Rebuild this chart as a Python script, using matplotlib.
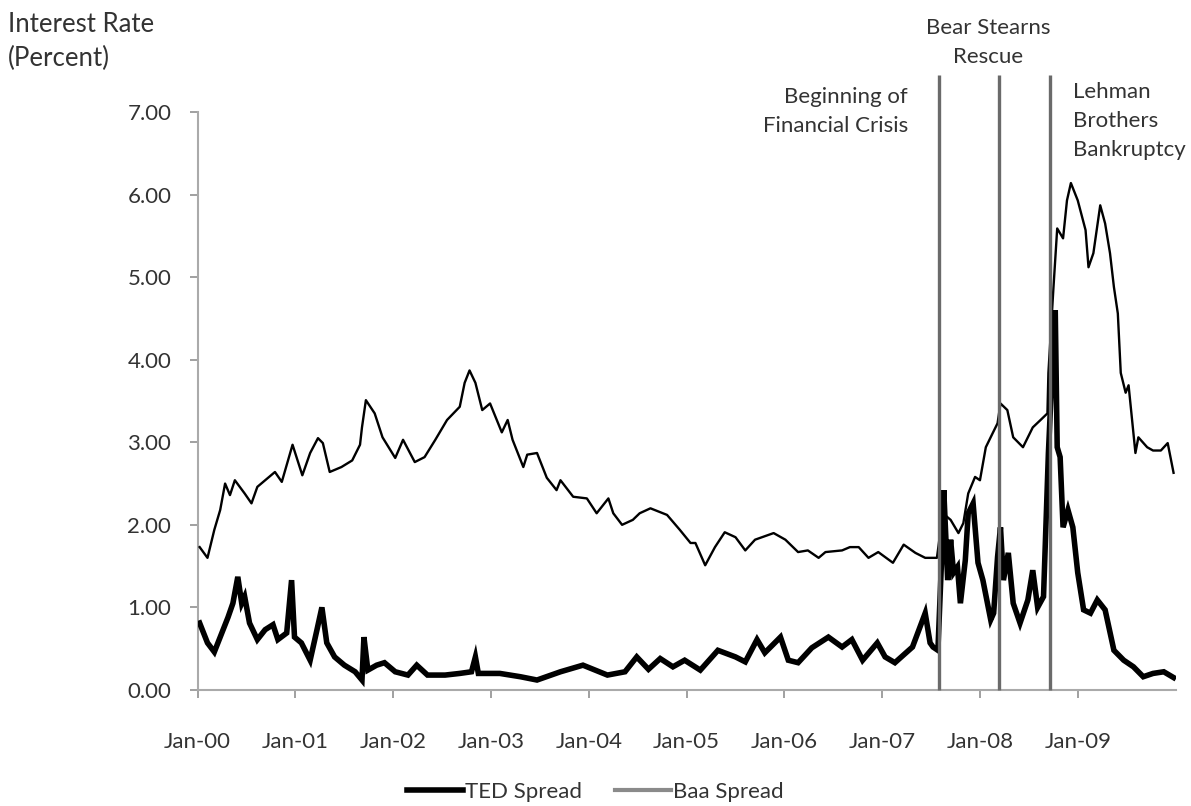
import matplotlib.pyplot as plt
from matplotlib.lines import Line2D

# Baa spread, decimal years
baa_t = [2000.02, 2000.10, 2000.17, 2000.23, 2000.28, 2000.33, 2000.38, 2000.48, 2000.55, 2000.61,
         2000.79, 2000.86, 2000.97, 2001.07, 2001.15, 2001.23, 2001.28, 2001.35, 2001.47, 2001.58,
         2001.66, 2001.68, 2001.72, 2001.81, 2001.89, 2002.02, 2002.10, 2002.22, 2002.32, 2002.43,
         2002.55, 2002.68, 2002.73, 2002.78, 2002.84, 2002.91, 2002.99, 2003.11, 2003.17, 2003.22,
         2003.33, 2003.37, 2003.47, 2003.57, 2003.67, 2003.71, 2003.84, 2003.98, 2004.08, 2004.20,
         2004.25, 2004.34, 2004.45, 2004.52, 2004.63, 2004.80, 2004.93, 2005.04, 2005.09, 2005.19,
         2005.29, 2005.39, 2005.50, 2005.60, 2005.70, 2005.89, 2006.01, 2006.14, 2006.24, 2006.35,
         2006.42, 2006.59, 2006.67, 2006.76, 2006.86, 2006.96, 2007.11, 2007.22, 2007.34, 2007.44,
         2007.56, 2007.62, 2007.70, 2007.78, 2007.83, 2007.88, 2007.95, 2008.00, 2008.06, 2008.13,
         2008.18, 2008.21, 2008.28, 2008.34, 2008.44, 2008.54, 2008.62, 2008.69, 2008.70, 2008.75,
         2008.79, 2008.85, 2008.89, 2008.93, 2009.00, 2009.08, 2009.11, 2009.16, 2009.23, 2009.28,
         2009.33, 2009.37, 2009.41, 2009.44, 2009.49, 2009.52, 2009.59, 2009.62, 2009.71, 2009.77,
         2009.85, 2009.92, 2009.98]
baa_v = [1.73, 1.60, 1.94, 2.18, 2.50, 2.36, 2.54, 2.38, 2.26, 2.46,
         2.64, 2.52, 2.97, 2.60, 2.87, 3.05, 2.99, 2.64, 2.70, 2.78,
         2.97, 3.18, 3.51, 3.35, 3.06, 2.81, 3.03, 2.76, 2.82, 3.03,
         3.27, 3.43, 3.72, 3.87, 3.72, 3.39, 3.47, 3.12, 3.27, 3.03,
         2.70, 2.85, 2.87, 2.57, 2.42, 2.54, 2.34, 2.32, 2.14, 2.32,
         2.14, 2.00, 2.06, 2.14, 2.20, 2.12, 1.94, 1.78, 1.78, 1.51,
         1.73, 1.91, 1.85, 1.69, 1.82, 1.90, 1.82, 1.67, 1.69, 1.60,
         1.67, 1.69, 1.73, 1.73, 1.60, 1.67, 1.54, 1.76, 1.66, 1.60,
         1.60, 2.14, 2.06, 1.90, 2.02, 2.38, 2.58, 2.54, 2.94, 3.11,
         3.23, 3.47, 3.39, 3.06, 2.94, 3.18, 3.27, 3.35, 3.84, 4.84,
         5.59, 5.47, 5.93, 6.14, 5.93, 5.57, 5.12, 5.29, 5.87, 5.65,
         5.29, 4.88, 4.56, 3.84, 3.60, 3.69, 2.87, 3.06, 2.94, 2.90,
         2.90, 2.99, 2.63]

# TED spread
ted_t = [2000.02, 2000.10, 2000.17, 2000.31, 2000.36, 2000.41, 2000.45, 2000.48, 2000.53, 2000.61,
         2000.69, 2000.77, 2000.82, 2000.91, 2000.96, 2000.99, 2001.06, 2001.15, 2001.22, 2001.27,
         2001.32, 2001.40, 2001.50, 2001.61, 2001.68, 2001.70, 2001.74, 2001.83, 2001.91, 2002.02,
         2002.15, 2002.24, 2002.35, 2002.53, 2002.68, 2002.80, 2002.84, 2002.87, 2003.09, 2003.30,
         2003.47, 2003.71, 2003.94, 2004.19, 2004.37, 2004.49, 2004.61, 2004.73, 2004.86, 2004.98,
         2005.14, 2005.32, 2005.50, 2005.60, 2005.72, 2005.80, 2005.96, 2006.04, 2006.14, 2006.28,
         2006.45, 2006.59, 2006.69, 2006.80, 2006.95, 2007.03, 2007.13, 2007.31, 2007.44, 2007.49,
         2007.52, 2007.57, 2007.62, 2007.63, 2007.67, 2007.70, 2007.73, 2007.77, 2007.80, 2007.85,
         2007.88, 2007.93, 2007.98, 2008.03, 2008.11, 2008.14, 2008.18, 2008.21, 2008.24, 2008.29,
         2008.34, 2008.41, 2008.49, 2008.54, 2008.59, 2008.65, 2008.70, 2008.74, 2008.77, 2008.79,
         2008.82, 2008.85, 2008.90, 2008.95, 2009.00, 2009.06, 2009.13, 2009.20, 2009.28, 2009.37,
         2009.47, 2009.57, 2009.67, 2009.77, 2009.88, 2009.98]
ted_v = [0.81, 0.57, 0.46, 0.88, 1.05, 1.37, 1.05, 1.13, 0.81, 0.61,
         0.73, 0.79, 0.61, 0.69, 1.33, 0.64, 0.57, 0.36, 0.73, 1.00,
         0.57, 0.40, 0.30, 0.22, 0.12, 0.64, 0.24, 0.30, 0.33, 0.22,
         0.18, 0.30, 0.18, 0.18, 0.20, 0.22, 0.40, 0.20, 0.20, 0.16,
         0.12, 0.22, 0.30, 0.18, 0.22, 0.40, 0.25, 0.38, 0.28, 0.36,
         0.24, 0.48, 0.40, 0.34, 0.61, 0.45, 0.64, 0.36, 0.33, 0.51,
         0.64, 0.52, 0.61, 0.36, 0.57, 0.40, 0.33, 0.52, 0.93, 0.57,
         0.52, 0.48, 1.94, 2.42, 1.33, 1.82, 1.42, 1.49, 1.05, 1.57,
         2.14, 2.26, 1.54, 1.33, 0.85, 0.93, 1.61, 1.97, 1.33, 1.66,
         1.05, 0.81, 1.09, 1.45, 1.00, 1.13, 2.87, 3.91, 4.60, 2.94,
         2.82, 1.97, 2.18, 1.97, 1.42, 0.97, 0.93, 1.09, 0.97, 0.48,
         0.36, 0.28, 0.16, 0.20, 0.22, 0.15]

event_t = [2007.58, 2008.19, 2008.72]
year_ticks = [2000, 2001, 2002, 2003, 2004, 2005, 2006, 2007, 2008, 2009]
year_labels = ['Jan-00', 'Jan-01', 'Jan-02', 'Jan-03', 'Jan-04',
               'Jan-05', 'Jan-06', 'Jan-07', 'Jan-08', 'Jan-09']

plt.rcParams['font.family'] = ['Lato', 'DejaVu Sans']
txt = '#333333'
grey = '#999999'

fig = plt.figure(figsize=(11.91, 8.06), dpi=100)
ax = fig.add_axes([0.166, 0.144, 0.821, 0.717])

ax.plot(baa_t, baa_v, color='black', lw=1.7, zorder=3)
ax.plot(ted_t, ted_v, color='black', lw=4, zorder=4, solid_joinstyle='miter')
ax.vlines(event_t, 0, 7.45, color='#6a6a6a', lw=2.4, clip_on=False, zorder=5)

ax.set_xlim(2000, 2010)
ax.set_ylim(0, 7)
ax.set_yticks([0, 1, 2, 3, 4, 5, 6, 7])
ax.set_yticklabels(['%.2f' % v for v in range(8)])
ax.set_xticks(year_ticks)
ax.set_xticklabels(year_labels)
ax.tick_params(axis='both', direction='out', color=grey, labelcolor=txt, labelsize=16, length=6, width=1.3)
ax.tick_params(axis='y', pad=13)
ax.tick_params(axis='x', pad=24)
for s in ['top', 'right']:
    ax.spines[s].set_visible(False)
for s in ['left', 'bottom']:
    ax.spines[s].set_color('#aaaaaa')
    ax.spines[s].set_linewidth(1.5)

fig.text(0.0067, 0.949, 'Interest Rate\n(Percent)', ha='left', va='center', fontsize=18.5,
         color=txt, linespacing=1.45)
fig.text(908 / 1191, 0.862, 'Beginning of\nFinancial Crisis', ha='right', va='center', fontsize=16,
         color=txt, linespacing=1.55)
fig.text(988 / 1191, 0.947, 'Bear Stearns\nRescue', ha='center', va='center', fontsize=16,
         color=txt, linespacing=1.55)
fig.text(1073 / 1191, 0.850, 'Lehman\nBrothers\nBankruptcy', ha='left', va='center', fontsize=16,
         color=txt, linespacing=1.55)

handles = [Line2D([], [], color='black', lw=4), Line2D([], [], color='#8a8a8a', lw=3)]
fig.legend(handles, ['TED Spread', 'Baa Spread'], loc='center', ncol=2, frameon=False,
           fontsize=16, bbox_to_anchor=(0.5, 1 - 792 / 806), handlelength=2.5, handletextpad=0.1,
           columnspacing=1.5, labelcolor=txt)

fig.savefig('out.png', dpi=100)
